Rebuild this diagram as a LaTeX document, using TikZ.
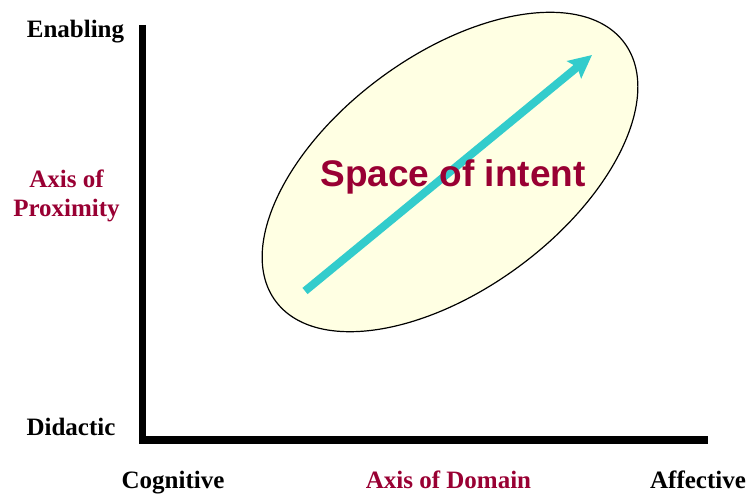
\documentclass[tikz,border=0pt]{standalone}
\usepackage{fontspec}
\setmainfont{Liberation Serif}
\newfontfamily\intentfont{Liberation Sans}
\usetikzlibrary{arrows.meta}
\definecolor{AxMaroon}{HTML}{990033}
\definecolor{AxCream}{HTML}{FFFFE3}
\definecolor{AxTeal}{HTML}{33CCCC}
\tikzset{
  axislabel/.style={font=\bfseries\fontsize{25}{28}\selectfont,inner sep=0pt,anchor=base},
  axisname/.style={axislabel,text=AxMaroon,align=center},
}

\begin{document}
\begin{tikzpicture}[x=1pt,y=1pt]
\path[use as bounding box] (0,0) rectangle (747,495);
% axes
\coordinate (top) at (142.5,470);
\coordinate (origin) at (142.5,55);
\coordinate (right) at (708,55);
\draw[line width=7.5pt,miter limit=4] (top) -- (origin) -- (right);
% space of intent
\draw[fill=AxCream,line width=1.2pt,rotate around={36.5:(450,323)}] (450,323) ellipse [x radius=217pt,y radius=117pt];
\coordinate (from) at (305,204);
\coordinate (to) at (592,440);
\draw[AxTeal,line width=8pt,-{Stealth[length=23pt,width=22pt,inset=4pt]}] (from) -- (to);
\node[inner sep=0pt,anchor=base,text=AxMaroon,font=\intentfont\bfseries\fontsize{37}{40}\selectfont] (intent) at (453,308) {Space of intent};
% labels
\node[axislabel] (enabling) at (75.5,457) {Enabling};
\node[axislabel] (didactic) at (71,59) {Didactic};
\node[axisname] (proxa) at (66.5,307) {Axis of};
\node[axisname] (proxb) at (66.5,278) {Proximity};
\node[axislabel] (cognitive) at (173,6) {Cognitive};
\node[axisname] (domain) at (448.5,6) {Axis of Domain};
\node[axislabel] (affective) at (698,6) {Affective};
\end{tikzpicture}
\end{document}
